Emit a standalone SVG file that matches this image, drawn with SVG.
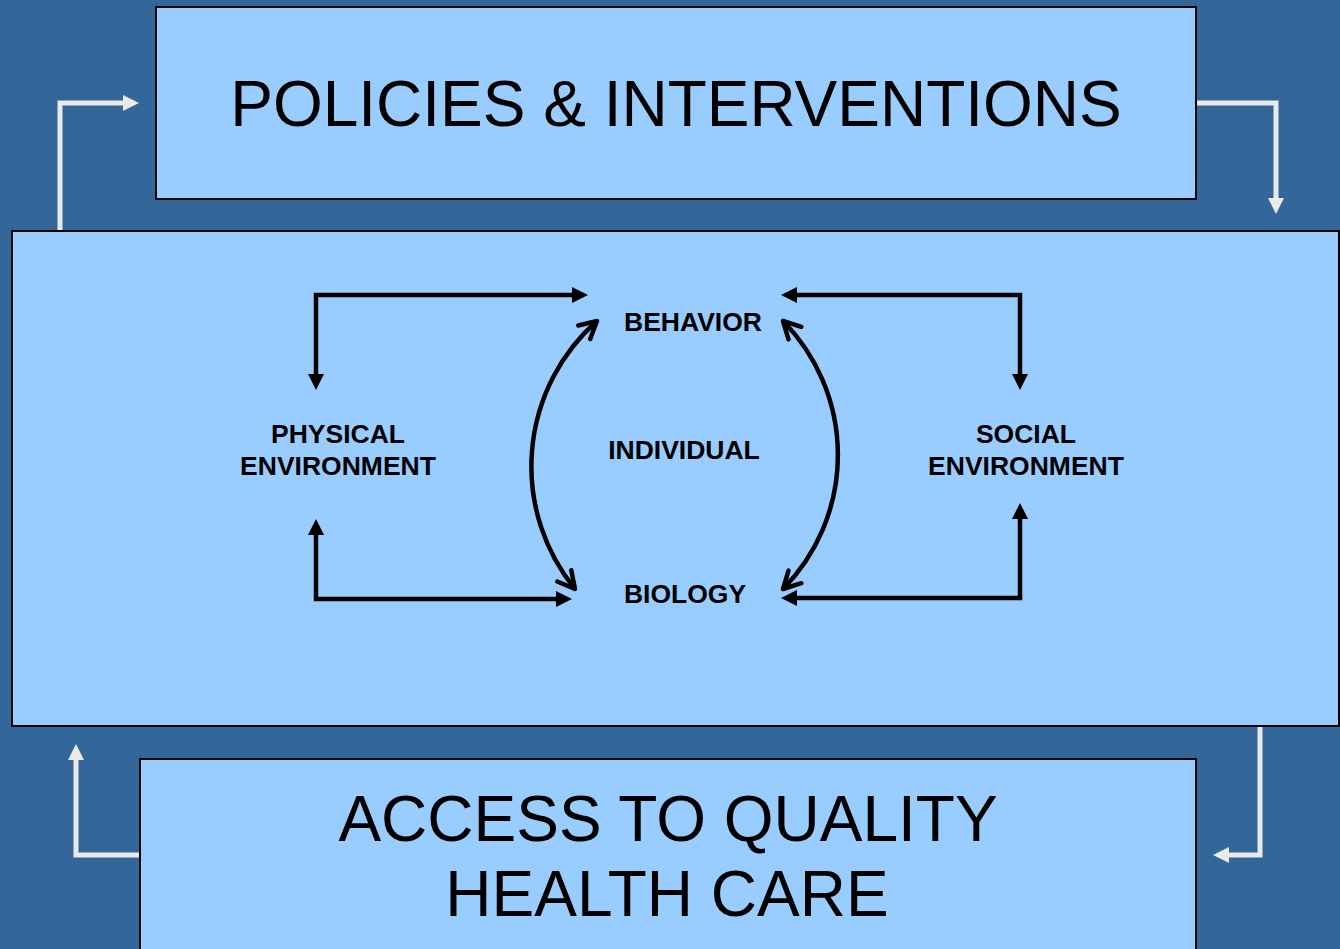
<svg xmlns="http://www.w3.org/2000/svg" width="1340" height="949" viewBox="0 0 1340 949">
<style>
.box{fill:#99CCFF;stroke:#000;stroke-width:2}
.title{font-family:"Liberation Sans",Arial,sans-serif;font-size:64px;fill:#000;text-anchor:middle}
.lbl{font-family:"Liberation Sans",Arial,sans-serif;font-size:26.5px;font-weight:bold;fill:#000;text-anchor:middle}
.wline{fill:none;stroke:#EAEAEA;stroke-width:5}
.bline{fill:none;stroke:#000;stroke-width:4.5}
.curve{fill:none;stroke:#000;stroke-width:4.5;marker-start:url(#vhead);marker-end:url(#vhead)}
</style>
<defs>
<marker id="whead" viewBox="0 0 16 16" refX="1" refY="8" markerWidth="16" markerHeight="16" markerUnits="userSpaceOnUse" orient="auto-start-reverse">
<path d="M0,0 L16,8 L0,16 z" fill="#EAEAEA"/>
</marker>
<marker id="bhead" viewBox="0 0 16 16" refX="1" refY="8" markerWidth="16" markerHeight="16" markerUnits="userSpaceOnUse" orient="auto-start-reverse">
<path d="M0,0 L16,8 L0,16 z" fill="#000"/>
</marker>
<marker id="vhead" viewBox="-22 -14 26 28" refX="0" refY="0" markerWidth="26" markerHeight="28" markerUnits="userSpaceOnUse" orient="auto-start-reverse">
<path d="M-17,-9 L0,0 L-17,9" fill="none" stroke="#000" stroke-width="4.5" stroke-linecap="round" stroke-linejoin="round"/>
</marker>
</defs>
<rect x="0" y="0" width="1340" height="949" fill="#336699"/>

<g id="connectors-outer">
<polyline class="wline" points="60,231 60,103 124,103" marker-end="url(#whead)"/>
<polyline class="wline" points="1196,103 1276,103 1276,199" marker-end="url(#whead)"/>
<polyline class="wline" points="140,855 76,855 76,759" marker-end="url(#whead)"/>
<polyline class="wline" points="1260,726 1260,855 1228,855" marker-end="url(#whead)"/>
</g>

<g id="policies">
<rect class="box" x="156" y="7" width="1040" height="192"/>
<text class="title" x="676" y="126">POLICIES &amp; INTERVENTIONS</text>
</g>

<g id="determinants">
<rect class="box" x="12" y="231" width="1327" height="495"/>
</g>

<g id="access">
<rect class="box" x="140" y="759" width="1056" height="200"/>
<text class="title" x="668" y="841">ACCESS TO QUALITY</text>
<text class="title" x="667" y="916">HEALTH CARE</text>
</g>

<g id="behavior"><text class="lbl" x="693" y="331">BEHAVIOR</text></g>
<g id="individual"><text class="lbl" x="684" y="459">INDIVIDUAL</text></g>
<g id="biology"><text class="lbl" x="685" y="603">BIOLOGY</text></g>
<g id="physical"><text class="lbl" x="338" y="443">PHYSICAL</text><text class="lbl" x="338" y="475">ENVIRONMENT</text></g>
<g id="social"><text class="lbl" x="1026" y="443">SOCIAL</text><text class="lbl" x="1026" y="475">ENVIRONMENT</text></g>

<g id="connectors-inner">
<polyline class="bline" points="316,375 316,295 573,295" marker-start="url(#bhead)" marker-end="url(#bhead)"/>
<polyline class="bline" points="796,295 1020,295 1020,375" marker-start="url(#bhead)" marker-end="url(#bhead)"/>
<polyline class="bline" points="316,534 316,599 557,599" marker-start="url(#bhead)" marker-end="url(#bhead)"/>
<polyline class="bline" points="1020,518 1020,598 796,598" marker-start="url(#bhead)" marker-end="url(#bhead)"/>
<path class="curve" d="M597,321 A194,194 0 0,0 575,589"/>
<path class="curve" d="M783,321 A191,191 0 0,1 783,589"/>
</g>
</svg>
